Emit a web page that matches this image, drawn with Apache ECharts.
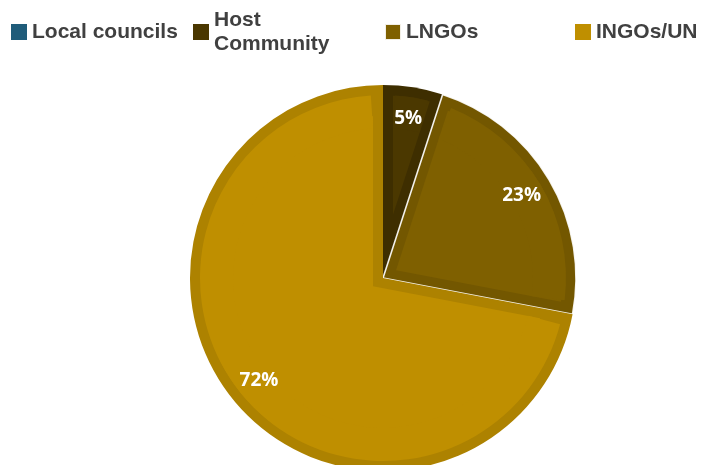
<!DOCTYPE html>
<html>
<head>
<meta charset="utf-8">
<script src="https://cdn.jsdelivr.net/npm/echarts@6/dist/echarts.min.js"></script>
<style>
  html, body { margin: 0; padding: 0; background: #ffffff; }
  #chart { width: 701px; height: 465px; }
</style>
</head>
<body>
<div id="chart"></div>
<script>
// Funding share by partner type
const categories = ['Local councils', 'Host Community', 'LNGOs', 'INGOs/UN'];
const shares = [0, 5, 23, 72];

// swatch, slice face and slice rim colours
const legendColors = ['#1F5C7A', '#4A3700', '#7F6000', '#BF8F00'];
const faceColors   = ['#1F5C7A', '#4B3800', '#7F6000', '#BF8F00'];
const rimColors    = ['#1A4E68', '#3E2E00', '#735700', '#AD8200'];

const CX = 383, CY = 278, R = 193, BEVEL = 10;
const total = shares.reduce((a, b) => a + b, 0);
const DEG = 180 / Math.PI;

const chart = echarts.init(document.getElementById('chart'), null, { renderer: 'canvas' });

function items(colorFn, styleFn) {
  return categories.map((name, i) => ({
    name,
    value: shares[i],
    itemStyle: Object.assign({ color: colorFn(i) }, styleFn ? styleFn(i) : {})
  }));
}

const common = {
  type: 'pie',
  startAngle: 90,
  clockwise: true,
  silent: true,
  animation: false,
  avoidLabelOverlap: false,
  label: { show: false },
  labelLine: { show: false },
  emphasis: { disabled: true }
};

const series = [];

// base: each whole slice in its darker rim colour
series.push(Object.assign({}, common, {
  center: [CX, CY],
  radius: R,
  data: items(i => rimColors[i], i => categories[i] === 'LNGOs'
    ? { borderColor: 'rgba(255,255,255,0.9)', borderWidth: 1.6 }
    : { borderWidth: 0 })
}));

// slice angle ranges (radians, clockwise from 12 o'clock)
const spans = [];
let acc = 0;
shares.forEach(v => {
  const a0 = acc / total * 2 * Math.PI;
  acc += v;
  spans.push([a0, acc / total * 2 * Math.PI]);
});

// face: every slice redrawn with its centre pushed along the bisector,
// so the straight edges run parallel to the slice edges, BEVEL px inside
shares.forEach((v, k) => {
  if (v <= 0) return;
  const [a0, a1] = spans[k];
  const half = (a1 - a0) / 2, mid = (a0 + a1) / 2;
  const shift = BEVEL / Math.sin(half);
  series.push(Object.assign({}, common, {
    center: [CX + shift * Math.sin(mid), CY - shift * Math.cos(mid)],
    radius: Math.max(R - BEVEL - shift, 0),
    data: items(i => (i === k ? faceColors[i] : 'rgba(0,0,0,0)'))
  }));
});

// face near the rim: concentric ring piece per slice, trimmed at each edge
const ringInner = 150;
const trim = Math.asin(BEVEL / ringInner);
shares.forEach((v, k) => {
  const [a0, a1] = spans[k];
  if (v <= 0 || a1 - a0 <= 2 * trim) return;
  series.push(Object.assign({}, common, {
    center: [CX, CY],
    radius: [ringInner, R - BEVEL],
    startAngle: 90 - (a0 + trim) * DEG,
    endAngle: 90 - (a1 - trim) * DEG,
    data: [{ name: categories[k], value: v, itemStyle: { color: faceColors[k] } }]
  }));
});

// percentage labels
series.push(Object.assign({}, common, {
  center: [CX, CY],
  radius: [123, 193],
  percentPrecision: 0,
  data: items(() => 'rgba(0,0,0,0)'),
  label: {
    show: true,
    position: 'inside',
    formatter: p => (p.value > 0 ? p.percent + '%' : ''),
    color: '#ffffff',
    fontSize: 19,
    fontWeight: 'bold',
    fontFamily: '"Open Sans", "Noto Sans", sans-serif'
  }
}));

const legendLeft = [11, 193, 384, 575];
const legendTop = [20, 8, 20, 20];
const legend = categories.map((name, i) => ({
  left: legendLeft[i],
  top: legendTop[i],
  padding: 0,
  itemWidth: 16,
  itemHeight: 16,
  itemGap: 0,
  icon: 'rect',
  selectedMode: false,
  data: [{ name, itemStyle: { color: legendColors[i] } }],
  textStyle: {
    color: '#404040',
    fontSize: 21,
    fontWeight: 'bold',
    fontFamily: '"Liberation Sans", Arial, sans-serif',
    lineHeight: 24,
    width: 150,
    overflow: 'break'
  }
}));

chart.setOption({
  backgroundColor: '#ffffff',
  animation: false,
  legend,
  series
});
</script>
</body>
</html>
